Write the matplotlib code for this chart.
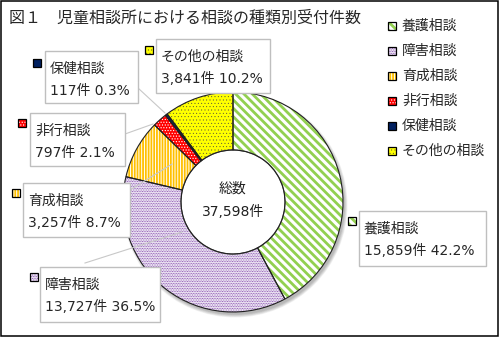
import matplotlib
matplotlib.use('Agg')
import matplotlib.pyplot as plt
from matplotlib.patches import Rectangle, Circle, Wedge
import numpy as np

plt.rcParams['font.family'] = ['Noto Sans CJK JP', 'DejaVu Sans']
NUMFONT = ['DejaVu Sans', 'Noto Sans CJK JP']

# ---------------- data ----------------
title = "図１　児童相談所における相談の種類別受付件数"
categories = ["養護相談", "障害相談", "育成相談", "非行相談", "保健相談", "その他の相談"]
counts = [15859, 13727, 3257, 797, 117, 3841]
center_label = "総数"
unit = "件"

# ---------------- styles ----------------
face_colors = ["white", "white", "white", "#FF0000", "#002060", "#FFFF00"]
hatch_colors = ["#92D050", "#7030A0", "#FFC000", "white", "#002060", "#404040"]
hatches = ["\\\\\\\\", "..........", "||||||", "......", None, "....."]
hatch_lws = [2.0, 0.55, 1.3, 0.5, 0.5, 0.25]

W, H = 500, 338
fig = plt.figure(figsize=(5, 3.38), dpi=100)
ax = fig.add_axes([0, 0, 1, 1])

cx, cy, R, r_in = 233, 202, 110, 52

def set_hlw(p, lw):
    if hasattr(p, 'set_hatch_linewidth'):
        p.set_hatch_linewidth(lw)
    else:
        p._hatch_linewidth = lw

# shadow
for i in range(6):
    sh = Wedge((cx + 2, cy + 3), R + 2.5 - i * 0.6, 0, 360, width=R - r_in + 3 - i * 0.3,
               facecolor='black', edgecolor='none', alpha=0.05, zorder=1)
    ax.add_patch(sh)

# fills
wedges, _ = ax.pie(counts, center=(cx, cy), radius=R, startangle=-90, counterclock=True,
                   colors=face_colors, frame=True,
                   wedgeprops=dict(width=R - r_in, linewidth=0))
for w, hc, h, hl in zip(wedges, hatch_colors, hatches, hatch_lws):
    w.set_zorder(2)
    w.set_edgecolor(hc)
    w.set_linewidth(0)
    if h:
        w.set_hatch(h)
        set_hlw(w, hl)

# outlines
wedges2, _ = ax.pie(counts, center=(cx, cy), radius=R, startangle=-90, counterclock=True,
                    frame=True,
                    wedgeprops=dict(width=R - r_in, linewidth=0.8, edgecolor='#202020', fill=False))
for w in wedges2:
    w.set_zorder(3)
ax.add_patch(Circle((cx, cy), r_in, facecolor='white', edgecolor='#606060', lw=0.8, zorder=2.5))

total = sum(counts)
ax.text(cx, 189, center_label, ha='center', va='center', fontsize=10, color='#202020', zorder=5)
ax.text(cx, 212, f"{total:,}{unit}", ha='center', va='center', fontsize=10, color='#202020',
        zorder=5, family=NUMFONT)

def marker(x, y, i, size=8):
    p = Rectangle((x, y), size, size, facecolor=face_colors[i], edgecolor=hatch_colors[i],
                  lw=0, zorder=6)
    if hatches[i]:
        p.set_hatch(hatches[i])
        set_hlw(p, hatch_lws[i])
    ax.add_patch(p)
    ax.add_patch(Rectangle((x, y), size, size, fill=False, edgecolor='black', lw=0.9, zorder=7))

# data labels
boxes = [(359, 211, 486, 266), (40, 267, 160, 322), (23, 183, 130, 237),
         (30, 113, 125, 166), (45, 51, 138, 103), (156, 39, 270, 93)]
markers = [(348, 217), (30, 273), (12, 189), (18, 119), (33, 59), (145, 46)]
leaders = [None, ((85, 263), (182, 232)), ((130, 190), (172, 164)),
           ((125, 134), (153, 124)), ((138, 88), (165, 113)), None]

for i, (name, v) in enumerate(zip(categories, counts)):
    pct = round(v / total * 100, 1)
    x0, y0, x1, y1 = boxes[i]
    ax.add_patch(Rectangle((x0, y0), x1 - x0, y1 - y0, facecolor='white',
                           edgecolor='#BFBFBF', lw=1.0, zorder=8))
    ax.text(x0 + 5, y0 + 18, name, ha='left', va='center', fontsize=10, color='#262626', zorder=9)
    ax.text(x0 + 5, y0 + 40, f"{v:,}{unit} {pct}%", ha='left', va='center', fontsize=10,
            color='#262626', zorder=9, family=NUMFONT)
    marker(*markers[i], i)
    if leaders[i]:
        (a, b), (c, d) = leaders[i]
        ax.plot([a, c], [b, d], color='#C8C8C8', lw=0.8, zorder=4)

# legend
for i, name in enumerate(categories):
    yc = 25.5 + i * 25
    marker(388, yc - 4, i)
    ax.text(402, yc, name, ha='left', va='center', fontsize=10, color='#262626', zorder=9)

ax.text(9, 18, title, ha='left', va='center', fontsize=11.5, color='#262626', zorder=9)

# frame
ax.add_patch(Rectangle((1, 1), 497, 335, fill=False, edgecolor='black', lw=1.1, zorder=10))

ax.set_xlim(0, W)
ax.set_ylim(H, 0)
ax.set_aspect('equal')
ax.axis('off')
fig.savefig('out.png', dpi=100)
